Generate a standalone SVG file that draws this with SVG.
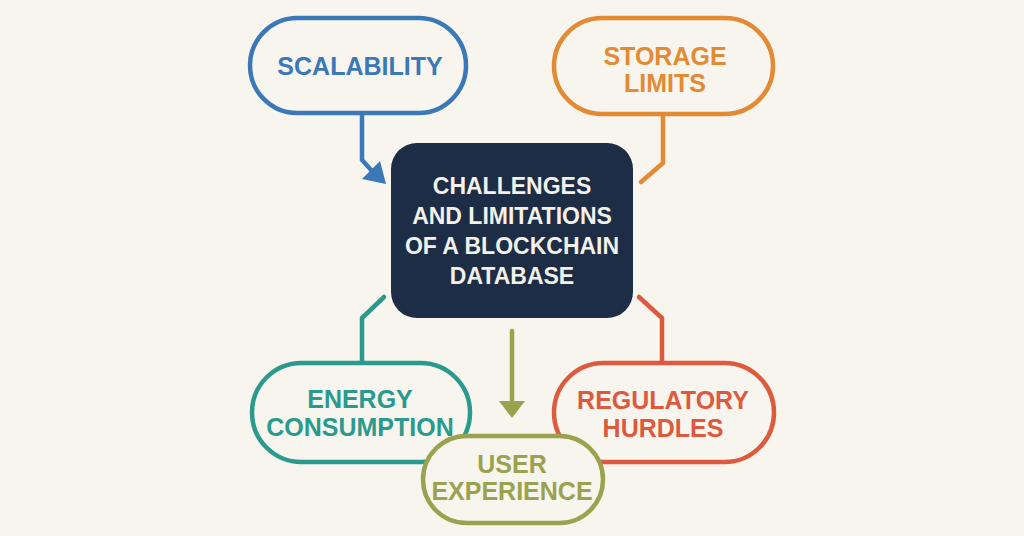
<svg xmlns="http://www.w3.org/2000/svg" width="1024" height="536" viewBox="0 0 1024 536">
<style>
.pill{fill:#f8f5ee;stroke-width:4.5}
.lbl{font-family:"Liberation Sans",Arial,sans-serif;font-weight:bold;font-size:25px;text-anchor:middle}
.ctr{font-family:"Liberation Sans",Arial,sans-serif;font-weight:bold;font-size:23px;text-anchor:middle;fill:#f4f1ea}
.con{fill:none;stroke-width:4.5;stroke-linecap:round;stroke-linejoin:miter}
</style>
<rect width="1024" height="536" fill="#f8f5ee"/>
<g id="connectors">
<polyline class="con" stroke="#3a78b8" points="362,113 362,160 372,171"/>
<polygon fill="#3a78b8" points="362,179 380,161 386,184"/>
<polyline class="con" stroke="#e38a35" points="663,115 663,163 641,182"/>
<polyline class="con" stroke="#2a9a8e" points="362,362 362,318 384,297"/>
<polyline class="con" stroke="#dd5a3e" points="662,362 662,318 639,297"/>
<line class="con" stroke="#9aa24e" x1="512" y1="331" x2="512" y2="404"/>
<polygon fill="#9aa24e" points="499,401 525,401 512,418"/>
</g>
<g id="scalability">
<rect class="pill" stroke="#3a78b8" x="250" y="18" width="216" height="95" rx="47.5"/>
<text class="lbl" fill="#3a78b8" x="360" y="75">SCALABILITY</text>
</g>
<g id="storage">
<rect class="pill" stroke="#e38a35" x="554" y="18" width="219" height="96" rx="48"/>
<text class="lbl" fill="#e38a35" x="665" y="65">STORAGE</text>
<text class="lbl" fill="#e38a35" x="665" y="92">LIMITS</text>
</g>
<g id="center">
<rect x="391" y="143" width="242" height="175" rx="26" fill="#1d2d46"/>
<text class="ctr" x="512" y="194">CHALLENGES</text>
<text class="ctr" x="512" y="224">AND LIMITATIONS</text>
<text class="ctr" x="512" y="254">OF A BLOCKCHAIN</text>
<text class="ctr" x="512" y="284">DATABASE</text>
</g>
<g id="energy">
<rect class="pill" stroke="#2a9a8e" x="252" y="363" width="218" height="99" rx="49.5"/>
<text class="lbl" fill="#2a9a8e" x="360" y="408">ENERGY</text>
<text class="lbl" fill="#2a9a8e" x="360" y="436">CONSUMPTION</text>
</g>
<g id="regulatory">
<rect class="pill" stroke="#dd5a3e" x="554" y="363" width="220" height="99" rx="49.5"/>
<text class="lbl" fill="#dd5a3e" x="663" y="409">REGULATORY</text>
<text class="lbl" fill="#dd5a3e" x="663" y="437">HURDLES</text>
</g>
<g id="user">
<rect class="pill" stroke="#9aa24e" x="423" y="436" width="180" height="87" rx="43.5"/>
<text class="lbl" fill="#9aa24e" x="512" y="473">USER</text>
<text class="lbl" fill="#9aa24e" x="512" y="500">EXPERIENCE</text>
</g>
</svg>
